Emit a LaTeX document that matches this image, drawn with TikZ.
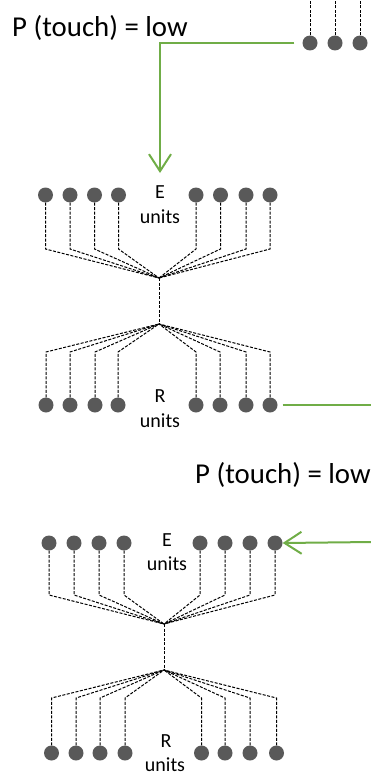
\documentclass[tikz,border=0pt]{standalone}
\usepackage{fontspec}
\setmainfont{Carlito}
\usetikzlibrary{arrows.meta}
\definecolor{dotgray}{RGB}{89,89,89}
\definecolor{gline}{RGB}{112,173,71}
\begin{document}
\begin{tikzpicture}[x=1pt,y=-1pt,
  unit/.style={circle,fill=dotgray,minimum size=15pt,inner sep=0pt},
  wire/.style={dash pattern=on 3pt off 1.5pt, line width=1pt},
  glink/.style={draw=gline,line width=2pt},
  garrow/.style={glink,-{Straight Barb[length=17pt,width=22pt,line width=2pt]}},
  lbl/.style={inner sep=0pt,font=\fontsize{20}{24}\selectfont,anchor=base},
  big/.style={inner sep=0pt,font=\fontsize{28.8}{34}\selectfont,anchor=base west}]
\useasboundingbox (0,0) rectangle (370,784);

% texts
\node[big] (p1) at (12,37) {P (touch) = low};
\node[big] (p2) at (195,483) {P (touch) = low};

% top partial units
\foreach \x [count=\i] in {310,335,360} {
  \node[unit] (t\i) at (\x,43) {};
  \coordinate (tt\i) at (\x,-2);
  \draw[wire] (t\i.north) -- (tt\i);
}

% network A
\coordinate (ahubT) at (159,278);
\coordinate (ahubB) at (159,324);
\draw[wire] (ahubT) -- (ahubB);
\foreach \x/\y [count=\i] in {45.5/46,70/70,94.5/95,118.5/118,196/196,220.5/220,246/246,270/270} {
  \node[unit] (ae\i) at (\x,195) {};
  \node[unit] (ar\i) at (\y,405) {};
  \draw[wire] (ae\i.south) -- (\x,249) -- (ahubT);
  \draw[wire] (ar\i.north) -- (\y,352) -- (ahubB);
}
\node[lbl] (aE) at (160,198) {E};
\node[lbl] (aEu) at (160,223) {units};
\node[lbl] (aR) at (160,402) {R};
\node[lbl] (aRu) at (160,427) {units};

% network B
\coordinate (bhubT) at (164,624);
\coordinate (bhubB) at (164,670);
\draw[wire] (bhubT) -- (bhubB);
\foreach \x/\y [count=\i] in {49/51.5,74/76,99/100,124/125,200/201.5,225/225,250/250,275/276.5} {
  \node[unit] (be\i) at (\x,543) {};
  \node[unit] (br\i) at (\y,753) {};
  \draw[wire] (be\i.south) -- (\x,595) -- (bhubT);
  \draw[wire] (br\i.north) -- (\y,698) -- (bhubB);
}
\node[lbl] (bE) at (167,546) {E};
\node[lbl] (bEu) at (167,570) {units};
\node[lbl] (bR) at (166,747) {R};
\node[lbl] (bRu) at (165,771) {units};

% green connectors
\coordinate (tipA) at (160,173);
\draw[garrow,shorten <=8pt] (t1.west) -| (tipA);
\coordinate (rightA) at (372,405);
\draw[glink,shorten <=5pt] (ar8.east) -- (rightA);
\coordinate (rightB) at (372,542);
\draw[garrow] (rightB) -- (be8.east);
\end{tikzpicture}
\end{document}
